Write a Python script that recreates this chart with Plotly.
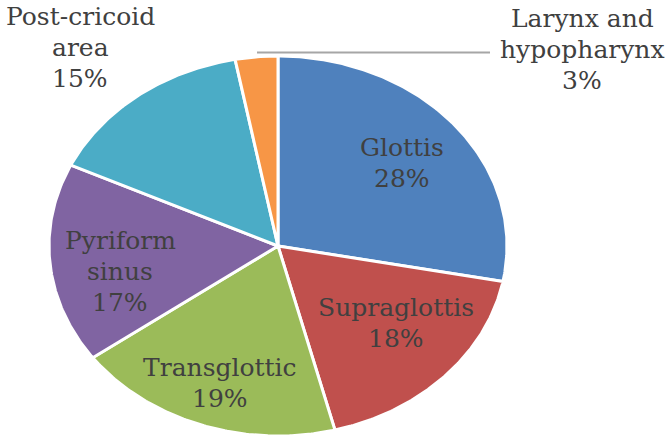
import numpy as np
import plotly.graph_objects as go

# ---- data ----
categories = ["Glottis", "Supraglottis", "Transglottic", "Pyriform sinus",
              "Post-cricoid area", "Larynx and hypopharynx"]
values = [28, 18, 19, 17, 15, 3]
label_lines = [["Glottis", "28%"], ["Supraglottis", "18%"], ["Transglottic", "19%"],
               ["Pyriform", "sinus", "17%"], ["Post-cricoid", "area", "15%"],
               ["Larynx and", "hypopharynx", "3%"]]

# ---- style / layout ----
colors = ["#4F81BD", "#C0504D", "#9BBB59", "#8064A2", "#4BACC6", "#F79646"]
W, H = 670, 442
cx, cy, rx, ry = 278, 246, 229, 190
label_pos = [(402, 163), (396, 323), (220, 383), (120, 271), (80, 47), (582, 49)]
line_h = 31
font = dict(family="DejaVu Serif", size=25, color="#404040")

fig = go.Figure()
total = sum(values)
start = 0.0
for cat, v, col in zip(categories, values, colors):
    a0 = start / total * 2 * np.pi
    a1 = (start + v) / total * 2 * np.pi
    th = np.linspace(a0, a1, max(8, int(v * 6)))
    xs = np.concatenate([[cx], cx + rx * np.sin(th), [cx]])
    ys = np.concatenate([[cy], cy - ry * np.cos(th), [cy]])
    fig.add_trace(go.Scatter(x=xs, y=ys, fill="toself", fillcolor=col, mode="lines",
                             line=dict(color="white", width=3), name=cat,
                             hoverinfo="text", text=f"{cat}: {v}%", showlegend=False))
    start += v

for lines, (lx, ly) in zip(label_lines, label_pos):
    n = len(lines)
    for i, t in enumerate(lines):
        yy = ly + (i - (n - 1) / 2) * line_h
        fig.add_annotation(x=lx, y=yy, text=t, showarrow=False, font=font,
                           xanchor="center", yanchor="middle")

# leader line for the small slice
fig.add_shape(type="line", x0=257, y0=52.5, x1=490, y1=52.5,
              line=dict(color="#A6A6A6", width=2))

fig.update_layout(width=W, height=H, margin=dict(l=0, r=0, t=0, b=0),
                  paper_bgcolor="white", plot_bgcolor="white",
                  xaxis=dict(range=[0, W], visible=False, fixedrange=True),
                  yaxis=dict(range=[H, 0], visible=False, fixedrange=True))
fig.write_html("out.html")
